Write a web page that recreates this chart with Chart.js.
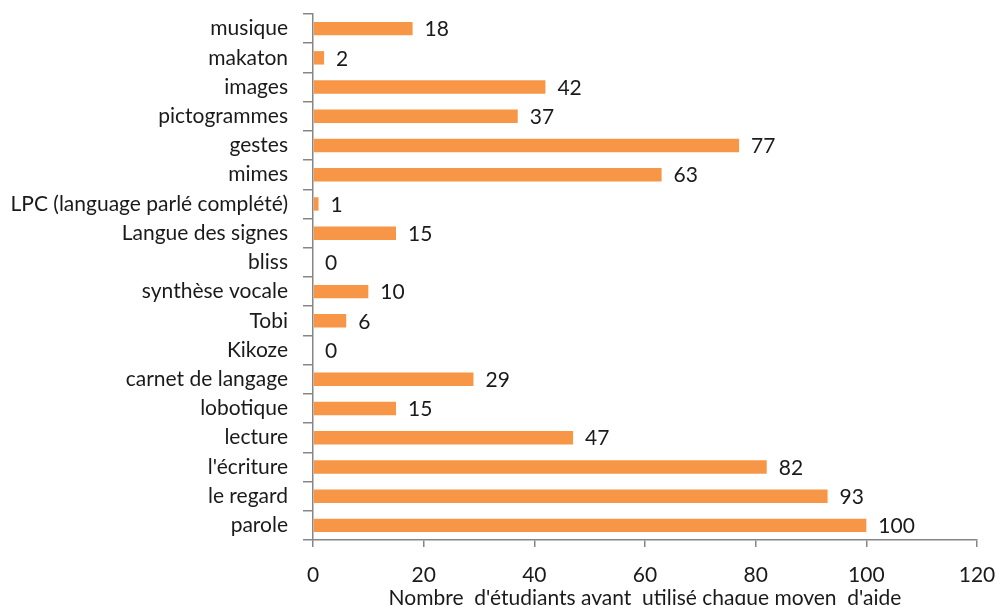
<!DOCTYPE html>
<html>
<head>
<meta charset="utf-8">
<script src="https://cdn.jsdelivr.net/npm/chart.js@4"></script>
<style>
  html, body { margin: 0; padding: 0; background: #fff; overflow: hidden; }
  #wrap { width: 997px; height: 605px; }
</style>
</head>
<body>
<div id="wrap"><canvas id="myChart"></canvas></div>
<script>
// categories, top to bottom
const categories = ['musique', 'makaton', 'images', 'pictogrammes', 'gestes', 'mimes',
    'LPC (language parlé complété)', 'Langue des signes', 'bliss', 'synthèse vocale', 'Tobi',
    'Kikoze', 'carnet de langage', 'lobotique', 'lecture', "l'écriture", 'le regard', 'parole'];
const counts = [18, 2, 42, 37, 77, 63, 1, 15, 0, 10, 6, 0, 29, 15, 47, 82, 93, 100];
const xTicks = [0, 20, 40, 60, 80, 100, 120];
const axisTitle = "Nombre  d'étudiants ayant  utilisé chaque moyen  d'aide";

const FONT = 'Lato, "Noto Sans", sans-serif';
const FSIZE = 21;
const axisColor = '#868686';

// draws the value next to each bar
const valueLabels = {
    id: 'valueLabels',
    afterDatasetsDraw(chart) {
        const ctx = chart.ctx;
        const meta = chart.getDatasetMeta(0);
        ctx.save();
        ctx.font = FSIZE + 'px ' + FONT;
        ctx.fillStyle = '#1a1a1a';
        ctx.textAlign = 'left';
        ctx.textBaseline = 'middle';
        meta.data.forEach((bar, i) => {
            ctx.fillText(String(counts[i]), bar.x + 12, bar.y + 1);
        });
        ctx.restore();
    }
};

new Chart('myChart', {
    type: 'bar',
    data: {
        labels: categories,
        datasets: [{
            data: counts,
            backgroundColor: '#F79646',
            barPercentage: 0.46,
            categoryPercentage: 1
        }]
    },
    options: {
        indexAxis: 'y',
        responsive: true,
        maintainAspectRatio: false,
        animation: false,
        layout: { padding: { top: 14, right: 20, bottom: 0, left: 0 } },
        plugins: {
            legend: { display: false },
            tooltip: { enabled: false }
        },
        scales: {
            x: {
                min: 0,
                max: 120,
                afterBuildTicks(scale) {
                    scale.ticks = xTicks.map(v => ({ value: v }));
                },
                afterFit(scale) {
                    scale.height = 65;
                    scale.paddingLeft = 0;
                    scale.paddingRight = 0;
                },
                border: { color: axisColor, width: 1.5 },
                grid: { drawOnChartArea: false, color: axisColor, tickLength: 7, lineWidth: 1.5 },
                ticks: { color: '#1a1a1a', font: { family: FONT, size: FSIZE }, padding: 16 },
                title: {
                    display: true,
                    text: axisTitle,
                    color: '#1a1a1a',
                    font: { family: FONT, size: FSIZE },
                    padding: { top: 0, bottom: -6 }
                }
            },
            y: {
                afterFit(scale) {
                    scale.width = 313;
                    scale.paddingTop = 0;
                    scale.paddingBottom = 0;
                },
                border: { color: axisColor, width: 1.5 },
                grid: { drawOnChartArea: false, offset: true, color: axisColor, tickLength: 10, lineWidth: 1.5 },
                ticks: { color: '#1a1a1a', font: { family: FONT, size: FSIZE }, padding: 15, autoSkip: false }
            }
        }
    },
    plugins: [valueLabels]
});
</script>
</body>
</html>
